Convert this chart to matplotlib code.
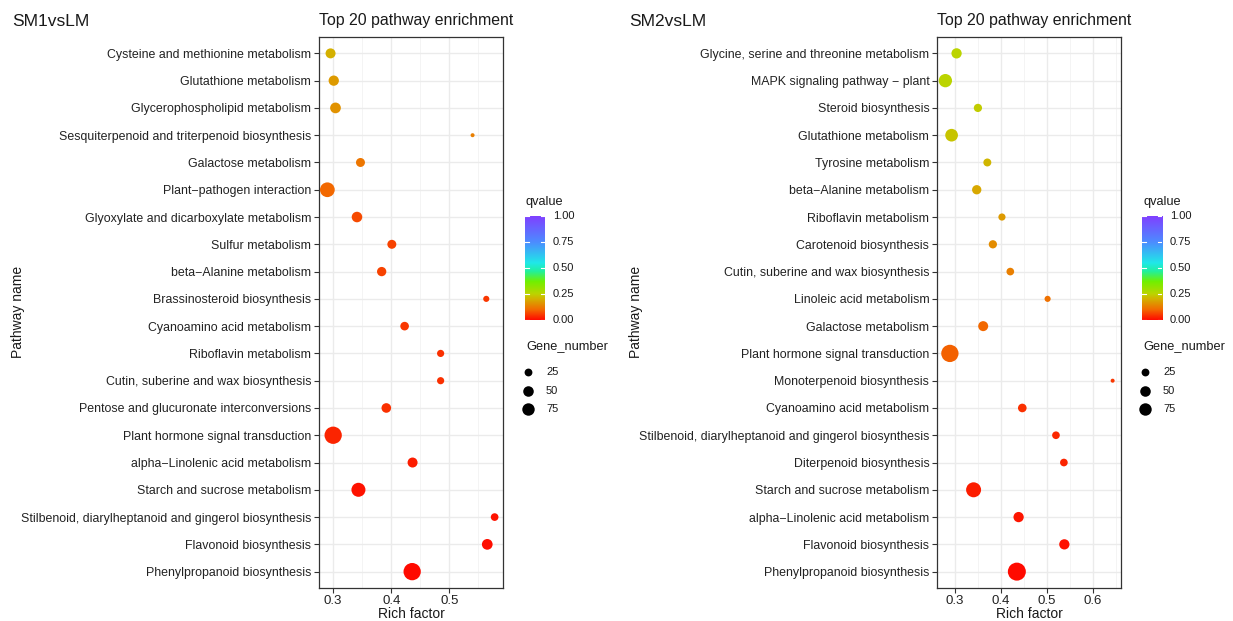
import matplotlib
matplotlib.use('Agg')

import matplotlib.pyplot as plt
from matplotlib.colors import LinearSegmentedColormap
from matplotlib.ticker import MultipleLocator
import numpy as np

plt.rcParams['font.family'] = ['Liberation Sans', 'DejaVu Sans']

# ---- data (top row first) ----
sm1_pathways = ["Cysteine and methionine metabolism", "Glutathione metabolism",
                "Glycerophospholipid metabolism", "Sesquiterpenoid and triterpenoid biosynthesis",
                "Galactose metabolism", "Plant\u2212pathogen interaction",
                "Glyoxylate and dicarboxylate metabolism", "Sulfur metabolism",
                "beta\u2212Alanine metabolism", "Brassinosteroid biosynthesis",
                "Cyanoamino acid metabolism", "Riboflavin metabolism",
                "Cutin, suberine and wax biosynthesis", "Pentose and glucuronate interconversions",
                "Plant hormone signal transduction", "alpha\u2212Linolenic acid metabolism",
                "Starch and sucrose metabolism", "Stilbenoid, diarylheptanoid and gingerol biosynthesis",
                "Flavonoid biosynthesis", "Phenylpropanoid biosynthesis"]
sm1_rich = [0.2955, 0.301, 0.304, 0.540, 0.347, 0.290, 0.341, 0.401, 0.3835, 0.5636,
            0.423, 0.485, 0.485, 0.3915, 0.300, 0.4367, 0.3435, 0.578, 0.5653, 0.436]
sm1_genes = [44, 47, 52, 12, 34, 114, 50, 34, 37, 16, 31, 21, 21, 40, 169, 44, 101, 24, 52, 169]
sm1_q = [0.20, 0.17, 0.16, 0.13, 0.12, 0.10, 0.07, 0.06, 0.06, 0.05,
         0.05, 0.04, 0.04, 0.04, 0.03, 0.02, 0.01, 0.01, 0.005, 0.0]

sm2_pathways = ["Glycine, serine and threonine metabolism", "MAPK signaling pathway \u2212 plant",
                "Steroid biosynthesis", "Glutathione metabolism", "Tyrosine metabolism",
                "beta\u2212Alanine metabolism", "Riboflavin metabolism", "Carotenoid biosynthesis",
                "Cutin, suberine and wax biosynthesis", "Linoleic acid metabolism",
                "Galactose metabolism", "Plant hormone signal transduction",
                "Monoterpenoid biosynthesis", "Cyanoamino acid metabolism",
                "Stilbenoid, diarylheptanoid and gingerol biosynthesis", "Diterpenoid biosynthesis",
                "Starch and sucrose metabolism", "alpha\u2212Linolenic acid metabolism",
                "Flavonoid biosynthesis", "Phenylpropanoid biosynthesis"]
sm2_rich = [0.3043, 0.280, 0.3506, 0.2935, 0.371, 0.348, 0.4027, 0.383, 0.4208, 0.5017,
            0.362, 0.2898, 0.6427, 0.4468, 0.5198, 0.537, 0.3412, 0.4388, 0.538, 0.435]
sm2_genes = [47, 89, 28, 79, 26, 37, 21, 28, 24, 16, 44, 169, 12, 31, 24, 24, 119, 47, 47, 186]
sm2_q = [0.25, 0.25, 0.24, 0.23, 0.21, 0.19, 0.17, 0.15, 0.13, 0.11,
         0.10, 0.09, 0.05, 0.04, 0.035, 0.03, 0.02, 0.015, 0.01, 0.0]

legend_genes = [25, 50, 75]
legend_q = [0.0, 0.25, 0.5, 0.75, 1.0]

W, H = 1233, 621
qcmap = LinearSegmentedColormap.from_list('qv', [
    (0.0, '#FF0A00'), (0.1, '#F26A00'), (0.2, '#D4B000'), (0.25, '#BCD400'),
    (0.37, '#70F000'), (0.47, '#20F0A0'), (0.55, '#20E8E8'), (0.75, '#4C8CFF'),
    (1.0, '#8040FF')])


def dot_px(n):
    return 4 + 13 * np.sqrt((np.asarray(n, dtype=float) - 12) / 150)


def dot_area(n):
    return (dot_px(n) * 0.72) ** 2


fig = plt.figure(figsize=(W / 100, H / 100), dpi=100)


def draw_panel(x0, pathways, rich, genes, q):
    ax = fig.add_axes([x0 / W, 1 - 588 / H, 184 / W, 551 / H])
    y = np.arange(len(pathways))[::-1]
    ax.scatter(rich, y, s=dot_area(genes), c=q, cmap=qcmap, vmin=0, vmax=1,
               linewidths=0, zorder=3)
    span = max(rich) - min(rich)
    ax.set_xlim(min(rich) - 0.05 * span, max(rich) + 0.05 * span)
    ax.set_ylim(-0.6, len(pathways) - 0.4)
    ax.set_yticks(y)
    ax.set_yticklabels(pathways)
    ax.xaxis.set_major_locator(MultipleLocator(0.1))
    ax.xaxis.set_minor_locator(MultipleLocator(0.05))
    ax.grid(which='major', color='#EBEBEB', lw=1.0)
    ax.grid(which='minor', axis='x', color='#F3F3F3', lw=0.6)
    ax.set_axisbelow(True)
    ax.tick_params(which='major', length=3.5, width=0.8, color='#333333',
                   labelsize=8.9, labelcolor='#222222', pad=2)
    ax.tick_params(axis='x', labelsize=9.5, pad=1.5)
    ax.tick_params(which='minor', length=0)
    for sp in ax.spines.values():
        sp.set_color('#333333')
        sp.set_linewidth(0.9)
    cx = (x0 + 92) / W
    fig.text(cx, 1 - 614 / H, "Rich factor", ha='center', va='center', fontsize=10, color='#1a1a1a')
    fig.text(x0 / W, 1 - 21 / H, "Top 20 pathway enrichment", ha='left', va='center',
             fontsize=11.4, color='#1a1a1a')
    return ax


def draw_legend(lx):
    fig.text(lx / W, 1 - 202 / H, "qvalue", ha='left', va='center', fontsize=9.2, color='#1a1a1a')
    cax = fig.add_axes([(lx - 1) / W, 1 - 320 / H, 20 / W, 104 / H])
    grad = np.linspace(0, 1, 256).reshape(-1, 1)
    cax.imshow(grad, aspect='auto', cmap=qcmap, origin='lower', extent=[0, 1, 0, 1])
    for v in legend_q:
        cax.plot([0, 0.2], [v, v], color='white', lw=0.8)
        cax.plot([0.8, 1], [v, v], color='white', lw=0.8)
        fig.text((lx + 27) / W, 1 - (320 - 104 * v) / H, "%.2f" % v, ha='left', va='center',
                 fontsize=8, color='#1a1a1a')
    cax.set_xlim(0, 1)
    cax.set_ylim(0, 1)
    cax.axis('off')
    fig.text(lx / W, 1 - 346 / H, "Gene_number", ha='left', va='center', fontsize=9.2, color='#1a1a1a')
    lax = fig.add_axes([0, 0, 1, 1], facecolor='none')
    lax.set_xlim(0, W)
    lax.set_ylim(H, 0)
    lax.axis('off')
    ys = [372, 390.7, 409]
    for g, yy in zip(legend_genes, ys):
        lax.scatter([lx + 2], [yy], s=dot_area(g), color='black', linewidths=0)
        fig.text((lx + 20) / W, 1 - yy / H, str(g), ha='left', va='center', fontsize=8, color='#1a1a1a')


draw_panel(319, sm1_pathways, sm1_rich, sm1_genes, sm1_q)
draw_panel(937, sm2_pathways, sm2_rich, sm2_genes, sm2_q)
draw_legend(526)
draw_legend(1143)

fig.text(12 / W, 1 - 21 / H, "SM1vsLM", ha='left', va='center', fontsize=12.5, color='#1a1a1a')
fig.text(629 / W, 1 - 21 / H, "SM2vsLM", ha='left', va='center', fontsize=12.5, color='#1a1a1a')
fig.text(18 / W, 1 - 312 / H, "Pathway name", rotation=90, ha='center', va='center', fontsize=10, color='#1a1a1a')
fig.text(636 / W, 1 - 312 / H, "Pathway name", rotation=90, ha='center', va='center', fontsize=10, color='#1a1a1a')

fig.savefig("out.png", dpi=100, facecolor='white')
